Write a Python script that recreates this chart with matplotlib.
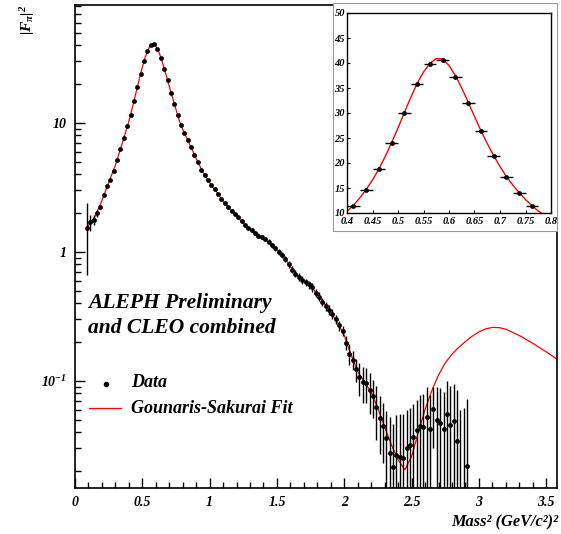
import numpy as np
import matplotlib
matplotlib.use("Agg")
import matplotlib.pyplot as plt
from matplotlib.ticker import FixedLocator, NullFormatter, MultipleLocator, LogLocator

plt.rcParams['font.family'] = ['Liberation Serif', 'DejaVu Serif']
plt.rcParams['font.weight'] = 'bold'
plt.rcParams['font.style'] = 'italic'
plt.rcParams['mathtext.fontset'] = 'custom'
plt.rcParams['mathtext.rm'] = 'Liberation Serif:bold:italic'
plt.rcParams['mathtext.it'] = 'Liberation Serif:bold:italic'
plt.rcParams['mathtext.bf'] = 'Liberation Serif:bold:italic'

# data: bin centres (width 0.025 GeV^2), |F_pi|^2 and errors
mass2 = np.arange(114) * 0.025 + 0.0875
ff2 = [1.53, 1.70, 1.77, 2.00, 2.22, 2.75, 3.27, 3.61, 4.26, 5.17,
       6.25, 7.6, 9.5, 11.5, 14.7, 18.9, 24.1, 30.1, 35.9, 39.9,
       40.6, 37.3, 32.1, 26.4, 21.5, 17.2, 14.1, 11.5, 9.7, 8.4,
       7.4, 6.5, 5.65, 4.95, 4.35, 3.96, 3.61, 3.31, 3.06, 2.82,
       2.58, 2.39, 2.22, 2.09, 1.97, 1.85, 1.73, 1.63, 1.54, 1.47,
       1.41, 1.34, 1.30, 1.26, 1.20, 1.13, 1.07, 1.00, 0.95, 0.88,
       0.80, 0.73, 0.68, 0.64, 0.61, 0.58, 0.56, 0.53, 0.48, 0.45,
       0.41, 0.38, 0.355, 0.33, 0.30, 0.27, 0.245, 0.198, 0.162, 0.146,
       0.123, 0.107, 0.098, 0.097, 0.085, 0.077, 0.063, 0.052, 0.045, 0.036,
       0.0275, 0.0217, 0.0267, 0.0259, 0.0251, 0.030, 0.032, 0.0366, 0.0417, 0.0448,
       0.0443, 0.0524, 0.0427, 0.0604, 0.0499, 0.0475, 0.0422, 0.0555, 0.0456, 0.049,
       0.0344, 0.010, 0.012, 0.022]
ff2_err = [0.87, 0.25, 0.15, 0.12, 0.08, 0.06, 0.06, 0.07, 0.08, 0.1,
           0.12, 0.15, 0.18, 0.2, 0.25, 0.3, 0.35, 0.4, 0.4, 0.4,
           0.4, 0.4, 0.4, 0.35, 0.3, 0.25, 0.2, 0.2, 0.15, 0.13,
           0.11, 0.1, 0.09, 0.08, 0.07, 0.06, 0.06, 0.05, 0.05, 0.05,
           0.05, 0.05, 0.05, 0.05, 0.05, 0.05, 0.05, 0.05, 0.05, 0.05,
           0.05, 0.05, 0.05, 0.05, 0.05, 0.05, 0.05, 0.05, 0.05, 0.05,
           0.045, 0.045, 0.045, 0.045, 0.045, 0.04, 0.04, 0.04, 0.035, 0.035,
           0.03, 0.03, 0.03, 0.028, 0.026, 0.024, 0.022, 0.025, 0.03, 0.025,
           0.025, 0.03, 0.03, 0.03, 0.03, 0.025, 0.028, 0.025, 0.022, 0.022,
           0.025, 0.025, 0.028, 0.03, 0.03, 0.03, 0.03, 0.03, 0.03, 0.033,
           0.035, 0.038, 0.035, 0.03, 0.04, 0.04, 0.04, 0.045, 0.045, 0.045,
           0.05, 0.05, 0.05, 0.05]

# Gounaris-Sakurai fit curve
fit_s = [0.0875, 0.1, 0.15, 0.2, 0.25, 0.3, 0.35,
         0.4, 0.4125, 0.425, 0.4375, 0.45, 0.4625, 0.475, 0.4875, 0.5, 0.5125,
         0.525, 0.5375, 0.55, 0.5625, 0.575, 0.5875, 0.6, 0.6125, 0.625, 0.6375,
         0.65, 0.6625, 0.675, 0.6875, 0.7, 0.7125, 0.725, 0.7375, 0.75, 0.7625,
         0.775, 0.7875, 0.8, 0.85, 0.9, 0.95, 1.0, 1.05, 1.1, 1.15, 1.2, 1.25,
         1.3, 1.35, 1.4, 1.45, 1.5, 1.55, 1.6, 1.65, 1.7, 1.75, 1.8, 1.85, 1.9,
         1.95, 2.0, 2.05, 2.1, 2.15, 2.2, 2.25, 2.3, 2.35, 2.4, 2.45, 2.5, 2.55,
         2.6, 2.65, 2.7, 2.75, 2.8, 2.85, 2.9, 2.95, 3.0, 3.05, 3.1, 3.15, 3.2,
         3.3, 3.4, 3.5, 3.6]
fit_v = [1.55, 1.6, 1.9, 2.5, 3.45, 4.7, 6.9,
         10.3, 11.5, 13.0, 14.7, 16.6, 18.8, 21.3, 24.1, 27.0, 30.1,
         33.1, 35.9, 38.2, 39.9, 40.9, 40.8, 39.5, 37.5, 35.0, 32.2,
         29.3, 26.5, 23.9, 21.5, 19.3, 17.3, 15.6, 14.1, 12.7, 11.5,
         10.4, 9.6, 8.9, 6.9, 5.3, 4.15, 3.45, 2.93, 2.48, 2.15, 1.9, 1.67,
         1.49, 1.37, 1.28, 1.16, 1.04, 0.92, 0.77, 0.66, 0.595, 0.55, 0.47, 0.40, 0.34,
         0.285, 0.225, 0.16, 0.118, 0.098, 0.082, 0.061, 0.044, 0.032, 0.0245, 0.0205, 0.026, 0.040,
         0.060, 0.084, 0.111, 0.138, 0.161, 0.182, 0.202, 0.222, 0.24, 0.253, 0.26, 0.259, 0.252,
         0.225, 0.196, 0.168, 0.143]

W, H = 561, 534
fig = plt.figure(figsize=(W / 100, H / 100), dpi=100)
ax = fig.add_axes([75 / W, 1 - 488 / H, 482 / W, 483 / H])

v = np.array(ff2)
e = np.array(ff2_err)
lo = v - np.maximum(v - e, 1e-4)

ax.plot(fit_s, fit_v, color='red', lw=0.9, zorder=1)
ax.errorbar(mass2, v, yerr=[lo, e], xerr=0.0125, fmt='o', color='black',
            ms=3.0, mew=0.4, elinewidth=1.0, capsize=0, zorder=2)

ax.set_yscale('log')
ax.set_xlim(0, 3.58)
ax.set_ylim(0.0148, 82)
ax.yaxis.set_major_locator(FixedLocator([0.1, 1, 10]))
ax.set_yticklabels([r'$\mathregular{10^{-1}}$', '1', '10'])
ax.yaxis.set_minor_locator(LogLocator(base=10, subs=np.arange(2, 10)))
ax.yaxis.set_minor_formatter(NullFormatter())
ax.set_xticks([0, 0.5, 1, 1.5, 2, 2.5, 3, 3.5])
ax.set_xticklabels(['0', '0.5', '1', '1.5', '2', '2.5', '3', '3.5'])
ax.xaxis.set_minor_locator(MultipleLocator(0.1))
ax.tick_params(which='both', direction='in', top=False, right=False, labelsize=10, width=1)
ax.tick_params(which='major', length=7, pad=6)
ax.tick_params(which='minor', length=4)
for sp in ax.spines.values():
    sp.set_linewidth(1.2)

fig.text(88 / W, 1 - 308 / H, 'ALEPH Preliminary', fontsize=15.5)
fig.text(88 / W, 1 - 333 / H, 'and CLEO combined', fontsize=15.5)

# legend drawn by hand
fig.lines.append(plt.Line2D([105.7 / W], [1 - 384 / H], marker='o', ms=3.0, color='black',
                            transform=fig.transFigure))
fig.lines.append(plt.Line2D([89 / W, 121 / W], [1 - 408 / H] * 2, color='red', lw=0.9,
                            transform=fig.transFigure))
fig.text(131 / W, 1 - 387 / H, 'Data', fontsize=13)
fig.text(131 / W, 1 - 413 / H, 'Gounaris-Sakurai Fit', fontsize=13)

fig.text(558 / W, 1 - 526 / H, 'Mass² (GeV/c²)²', fontsize=11.8, ha='right')
fig.text(28 / W, 1 - 20 / H, r'$|F_{\pi}|^{2}$', fontsize=11, rotation=90,
         ha='center', va='center')

# inset pad frame and inset
fig.patches.append(plt.Rectangle((333 / W, 1 - 231 / H), 224 / W, 228 / H, fill=True,
                                 facecolor='white', edgecolor='#999999', lw=0.8,
                                 transform=fig.transFigure, zorder=3))
ins = fig.add_axes([347 / W, 1 - 213 / H, 204 / W, 200 / H], zorder=4)
ins.plot(fit_s, fit_v, color='red', lw=1.0, zorder=1)
ins.errorbar(mass2, v, yerr=e, xerr=0.0125, fmt='o', color='black',
             ms=3.0, mew=0.4, elinewidth=1.0, capsize=0, zorder=2)
ins.set_xlim(0.4, 0.8)
ins.set_ylim(10, 50)
ins.set_xticks(np.arange(0.4, 0.801, 0.05))
ins.set_xticklabels(['0.4', '0.45', '0.5', '0.55', '0.6', '0.65', '0.7', '0.75', '0.8'])
ins.set_yticks(np.arange(10, 51, 5))
ins.tick_params(direction='in', length=2, labelsize=7.5, pad=1.5)
ins.tick_params(axis='x', pad=3)
for sp in ins.spines.values():
    sp.set_linewidth(1.0)

fig.savefig('out.png', dpi=100)
